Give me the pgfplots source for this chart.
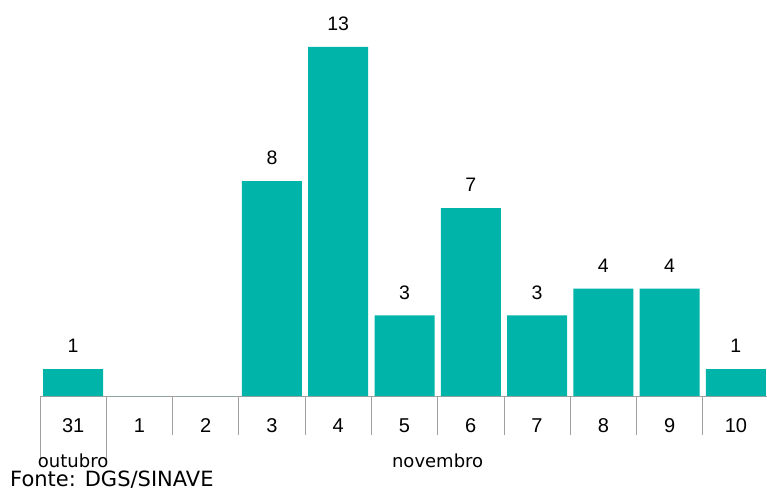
\documentclass[border=0pt]{standalone}
\usepackage{pgfplots}
\pgfplotsset{compat=1.18}
\usepackage{fontspec}
\setmainfont{Liberation Sans}
\newfontfamily\dejavu{DejaVu Sans}
\definecolor{barteal}{RGB}{0,180,170}
\definecolor{sepgray}{RGB}{160,160,160}

\begin{document}
\begin{tikzpicture}
    \begin{axis}[
            at={(40pt,94pt)}, anchor=south west,
            scale only axis,
            width=729pt, height=396pt,
            xmin=-0.5, xmax=10.5,
            ymin=0, ymax=14.75,
            axis x line*=bottom,
            axis y line=none,
            x axis line style={sepgray, line width=0.8pt, -},
            ybar, bar width=60pt,
            xtick={0,...,10},
            xticklabels={31,1,2,3,4,5,6,7,8,9,10},
            xtick style={draw=none},
            xticklabel style={anchor=center, yshift=-25.5pt, font=\fontsize{20}{22}\selectfont},
            /pgf/number format/assume math mode=true,
            nodes near coords={\pgfmathfloatifflags{\pgfplotspointmeta}{0}{}{\pgfmathprintnumber{\pgfplotspointmeta}}},
            every node near coord/.append style={anchor=center, yshift=23pt, font=\fontsize{19.5}{22}\selectfont},
            clip=false,
        ]
        \addplot[fill=barteal, draw=none] coordinates {
            (0,1) (1,0) (2,0) (3,8) (4,13) (5,3) (6,7) (7,3) (8,4) (9,4) (10,1)
        };
        % separators of the date cells
        \foreach \b in {1.5,2.5,...,9.5} {
            \edef\tmp{\noexpand\draw[sepgray, line width=0.8pt] (axis cs:\b,0) -- ++(0pt,-39pt);}
            \tmp
        }
        \draw[sepgray, line width=0.8pt] (axis cs:-0.5,0) -- ++(0pt,-64pt);
        \draw[sepgray, line width=0.8pt] (axis cs:0.5,0) -- ++(0pt,-64pt);
        \node[font=\dejavu\fontsize{18}{20}\selectfont, anchor=base] at (axis cs:0,0) [yshift=-71pt] {outubro};
        \node[font=\dejavu\fontsize{18}{20}\selectfont, anchor=base] at (axis cs:5.5,0) [yshift=-71pt] {novembro};
    \end{axis}
    \node[font=\dejavu\fontsize{21}{22}\selectfont, anchor=base west, inner sep=0pt] at (10pt,4pt) {Fonte: DGS/SINAVE};
    \pgfresetboundingbox
    \useasboundingbox (0,0) rectangle (767pt,490pt);
\end{tikzpicture}
\end{document}
